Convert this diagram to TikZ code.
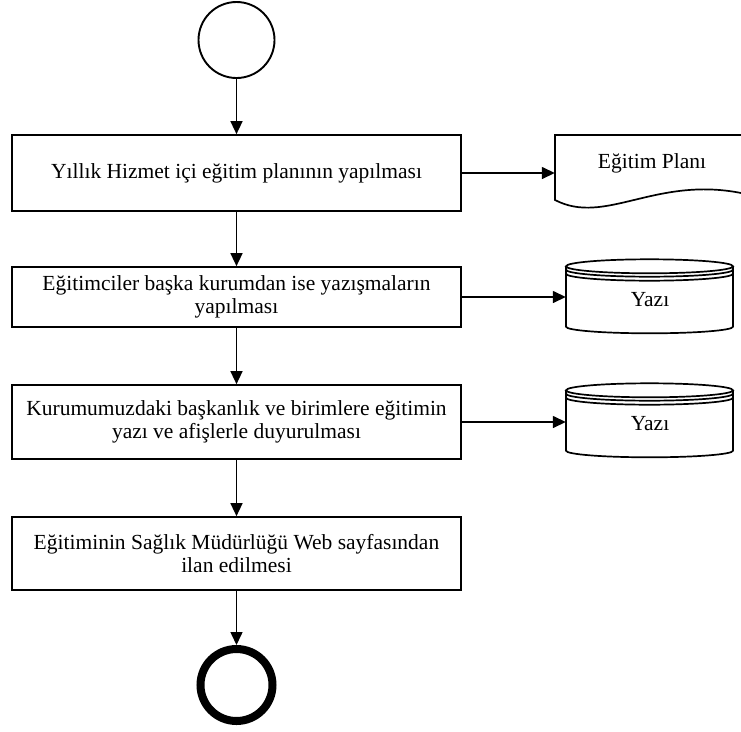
\documentclass[tikz,border=0pt]{standalone}
\usepackage{fontspec}
\setmainfont{Liberation Serif}
\usetikzlibrary{arrows.meta}
\begin{document}
\begin{tikzpicture}[x=1pt,y=-1pt,
  procbox/.style={draw,line width=1.7pt,minimum width=449pt,inner sep=0pt,align=center,
    font=\fontsize{21.5}{23.5}\selectfont},
  flow/.style={line width=1.5pt,-{Triangle[length=13pt,width=12pt]}},
  shapeline/.style={line width=1.7pt},
  label/.style={inner sep=0pt,font=\fontsize{21.5}{23.5}\selectfont}]
\useasboundingbox (0,0) rectangle (741,731);

% start and end events
\node (start) [draw,circle,line width=1.9pt,minimum size=76pt,inner sep=0pt] at (236.5,40) {};
\node (stop) [draw,circle,line width=8pt,minimum size=72pt,inner sep=0pt] at (236.5,685) {};

% process steps
\node (b1) [procbox,minimum height=76pt] at (236.5,173) {Yıllık Hizmet içi eğitim planının yapılması};
\node (b2) [procbox,minimum height=60pt] at (236.5,297) {Eğitimciler başka kurumdan ise yazışmaların\\yapılması};
\node (b3) [procbox,minimum height=74pt] at (236.5,422) {Kurumumuzdaki başkanlık ve birimlere eğitimin\\yazı ve afişlerle duyurulması};
\node (b4) [procbox,minimum height=73pt] at (236.5,553.5) {Eğitiminin Sağlık Müdürlüğü Web sayfasından\\ilan edilmesi};

% document: Eğitim Planı
\node (doc) [minimum width=186pt,minimum height=65pt,inner sep=0pt] at (648,172) {};
\draw[shapeline] (741,135) -- (555,135) -- (555,200)
  .. controls (605,226) and (655,176) .. (741,193);
\node (doctext) [label] at (652,163) {Eğitim Planı};

% stored data: Yazı (two drums)
\foreach \nm/\cy in {d1/0,d2/124}{
  \begin{scope}[yshift=-\cy pt]
    \node (\nm) [minimum width=167pt,minimum height=60pt,inner sep=0pt] at (649.5,297) {};
    \draw[shapeline] (649.5,266.3) ellipse [x radius=83.5pt,y radius=7pt];
    \draw[shapeline] (566,269.7) arc[start angle=180,end angle=360,x radius=83.5pt,y radius=7pt];
    \draw[shapeline] (566,273.7) arc[start angle=180,end angle=360,x radius=83.5pt,y radius=7pt];
    \draw[shapeline] (566,266.3) -- (566,326.7)
      arc[start angle=180,end angle=360,x radius=83.5pt,y radius=6.6pt] -- (733,266.3);
    \node[label] at (650,300) {Yazı};
  \end{scope}}

% sequence flow
\draw[flow] (start) -- (b1);
\draw[flow] (b1) -- (b2);
\draw[flow] (b2) -- (b3);
\draw[flow] (b3) -- (b4);
\draw[flow] (b4) -- (stop);

% outputs
\draw[flow] (b1.east) -- (b1.east -| doc.west);
\draw[flow] (b2.east) -- (b2.east -| d1.west);
\draw[flow] (b3.east) -- (b3.east -| d2.west);
\end{tikzpicture}
\end{document}
